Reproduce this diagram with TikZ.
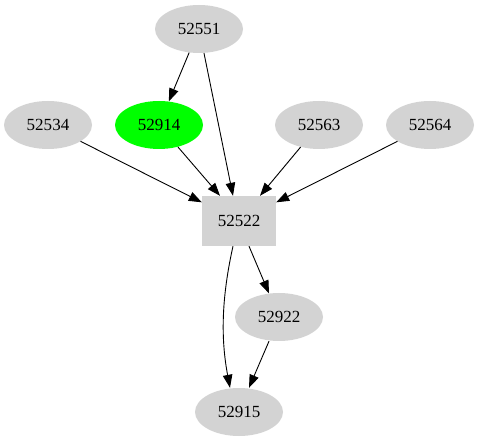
\documentclass[tikz,border=0pt]{standalone}
\usepackage{fontspec}
\setmainfont{Liberation Serif}
\usetikzlibrary{arrows.meta,shapes.geometric}
\definecolor{lgray}{RGB}{211,211,211}
\definecolor{vgreen}{RGB}{0,255,0}
\begin{document}
\begin{tikzpicture}[x=1pt,y=-1pt,
  nd/.style={ellipse,fill=lgray,minimum width=88pt,minimum height=48pt,inner sep=0pt,font=\fontsize{17}{17}\selectfont},
  bx/.style={rectangle,fill=lgray,minimum width=74pt,minimum height=50pt,inner sep=0pt,font=\fontsize{17}{17}\selectfont},
  e/.style={draw=black,line width=0.9pt,-{Triangle[length=13pt,width=9.5pt]}}]
\useasboundingbox (0,0) rectangle (479,443);
\node[nd] (n51) at (199,29) {52551};
\node[nd,fill=vgreen] (n14) at (159,125) {52914};
\node[nd] (n34) at (48,125) {52534};
\node[nd] (n63) at (319,125) {52563};
\node[nd] (n64) at (430,125) {52564};
\node[bx] (n22) at (239,221) {52522};
\node[nd] (n922) at (279,317) {52922};
\node[nd] (n15) at (239,412) {52915};
\draw[e] (n51) -- (n14);
\draw[e] ([xshift=5pt]n51.south) -- ([xshift=-6pt]n22.north);
\draw[e] (n34) -- (n22);
\draw[e] (n14) -- ([xshift=-19pt]n22.north);
\draw[e] (n63) -- ([xshift=21pt]n22.north);
\draw[e] (n64) -- (n22);
\draw[e] ([xshift=10pt]n22.south) -- (n922);
\draw[e] ([xshift=-6pt]n22.south) .. controls (221,300) and (221,340) .. ([xshift=-9pt]n15.north);
\draw[e] ([xshift=-10pt]n922.south) -- ([xshift=10pt]n15.north);
\end{tikzpicture}
\end{document}
